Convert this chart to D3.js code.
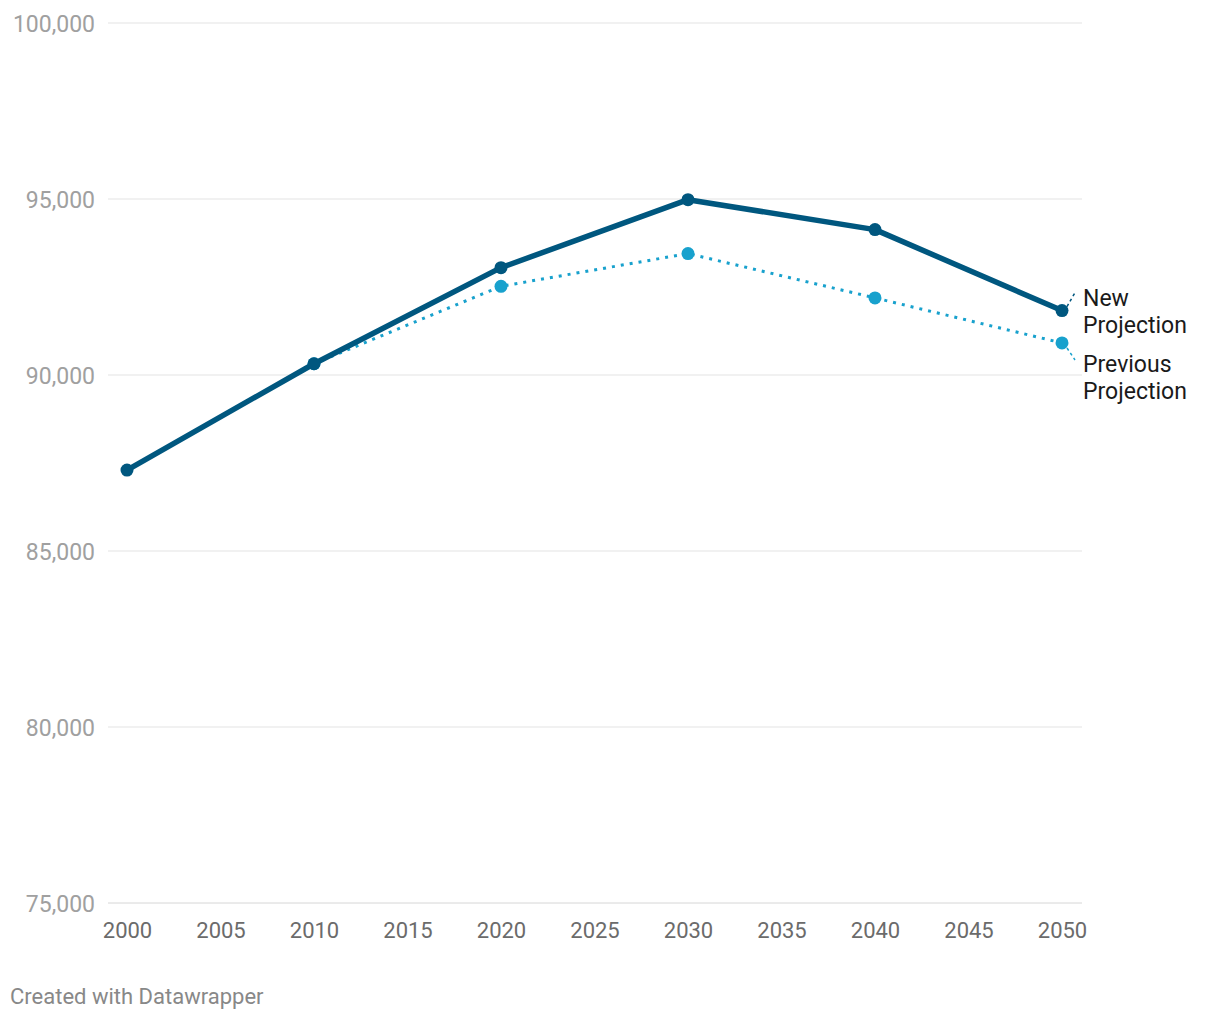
<!DOCTYPE html>
<html><head><meta charset="utf-8">
<script src="https://cdn.jsdelivr.net/npm/d3@7"></script>
<style>
body{margin:0;background:#fff;font-family:Roboto,"Noto Sans",sans-serif;}
</style></head>
<body><svg id="c" width="1220" height="1020"></svg>
<script>
const years = [2000, 2010, 2020, 2030, 2040, 2050];
const newProjection = [87300, 90320, 93050, 94980, 94130, 91830];
const prevYears = [2010, 2020, 2030, 2040, 2050];
const previousProjection = [90320, 92520, 93450, 92190, 90910];
const yTicks = [75000, 80000, 85000, 90000, 95000, 100000];
const xTicks = [2000, 2005, 2010, 2015, 2020, 2025, 2030, 2035, 2040, 2045, 2050];
const seriesNames = ["New Projection", "Previous Projection"];

const svg = d3.select("#c");
const x = d3.scaleLinear().domain([2000, 2050]).range([127, 1062]);
const y = d3.scaleLinear().domain([75000, 100000]).range([903, 23]);

// grid
svg.append("g").selectAll("line").data(yTicks).join("line")
  .attr("x1", 108).attr("x2", 1082).attr("y1", d => y(d)).attr("y2", d => y(d))
  .attr("stroke", d => d === 75000 ? "#d6d6d6" : "#e3e3e3").attr("stroke-width", 1);

const yAxis = d3.axisLeft(y).tickValues(yTicks).tickSize(0).tickFormat(d3.format(","));
const gy = svg.append("g").attr("transform", "translate(95,0)").call(yAxis);
gy.select(".domain").remove();
gy.selectAll("text").attr("fill", "#a0a0a0").attr("font-size", 23).attr("font-family", "Roboto")
  .attr("x", 0).attr("dy", "0.35em");

const xAxis = d3.axisBottom(x).tickValues(xTicks).tickSize(0).tickFormat(d3.format("d"));
const gx = svg.append("g").attr("transform", "translate(0,0)").call(xAxis);
gx.select(".domain").remove();
gx.selectAll("text").attr("fill", "#6b6b6b").attr("font-size", 22).attr("font-family", "Roboto")
  .attr("dy", 0).attr("y", 938);

const line = d3.line().x(d => x(d[0])).y(d => y(d[1]));
const prevData = prevYears.map((yr, i) => [yr, previousProjection[i]]);
const newData = years.map((yr, i) => [yr, newProjection[i]]);

// previous (dotted)
svg.append("path").datum(prevData).attr("d", line).attr("fill", "none")
  .attr("stroke", "#18a1cd").attr("stroke-width", 3).attr("stroke-dasharray", "3,6").attr("stroke-linecap", "butt");
svg.append("g").selectAll("circle").data(prevData).join("circle")
  .attr("cx", d => x(d[0])).attr("cy", d => y(d[1])).attr("r", 6.5).attr("fill", "#18a1cd");

// new (solid)
svg.append("path").datum(newData).attr("d", line).attr("fill", "none")
  .attr("stroke", "#00577f").attr("stroke-width", 5.5).attr("stroke-linejoin", "round");
svg.append("g").selectAll("circle").data(newData).join("circle")
  .attr("cx", d => x(d[0])).attr("cy", d => y(d[1])).attr("r", 6.5).attr("fill", "#00577f");

// labels
const lastNew = newData[newData.length - 1];
const lastPrev = prevData[prevData.length - 1];
svg.append("line").attr("x1", x(lastNew[0]) + 5).attr("y1", y(lastNew[1]) - 4)
  .attr("x2", x(lastNew[0]) + 13).attr("y2", y(lastNew[1]) - 18)
  .attr("stroke", "#00577f").attr("stroke-width", 1.5).attr("stroke-dasharray", "3,3");
svg.append("line").attr("x1", x(lastPrev[0]) + 5).attr("y1", y(lastPrev[1]) + 5)
  .attr("x2", x(lastPrev[0]) + 13).attr("y2", y(lastPrev[1]) + 17)
  .attr("stroke", "#18a1cd").attr("stroke-width", 1.5).attr("stroke-dasharray", "3,3");

const lab = (txt, ly) => svg.append("text").attr("x", 1083).attr("y", ly)
  .attr("font-size", 23).attr("font-family", "Roboto").attr("fill", "#1a1a1a").text(txt);
lab("New", 306); lab("Projection", 333);
lab("Previous", 372); lab("Projection", 399);

svg.append("text").attr("x", 10).attr("y", 1004).attr("font-size", 22)
  .attr("font-family", "Roboto").attr("fill", "#888").text("Created with Datawrapper");
</script></body></html>
